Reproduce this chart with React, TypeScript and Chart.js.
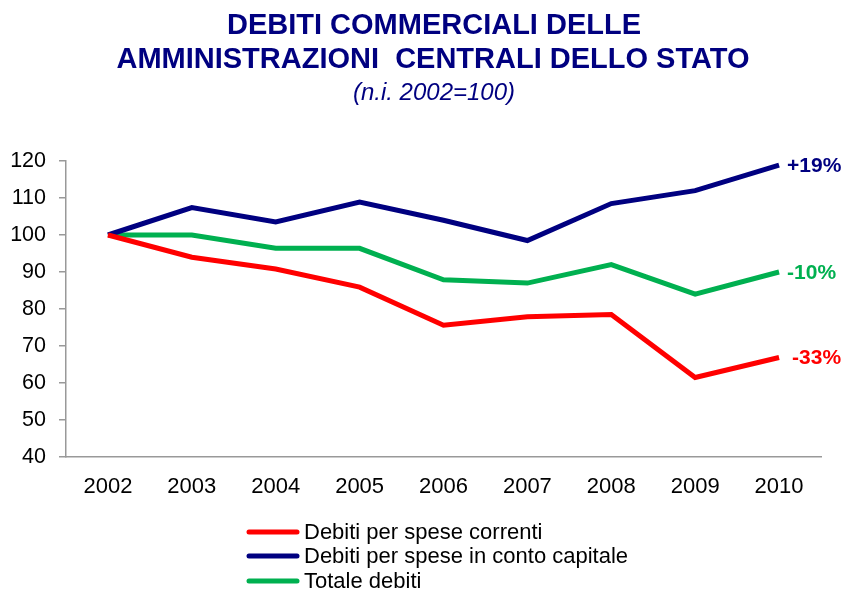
import React, { useEffect, useRef } from "react";
import { Chart, registerables } from "chart.js";

Chart.register(...registerables);

const years = ["2002", "2003", "2004", "2005", "2006", "2007", "2008", "2009", "2010"];
const correnti = [100, 94, 90.8, 85.9, 75.6, 77.9, 78.5, 61.5, 66.9];
const capitale = [100, 107.4, 103.5, 108.9, 104, 98.5, 108.5, 112, 118.9];
const totale = [100, 100, 96.4, 96.4, 87.9, 87, 92, 84, 90];
const seriesNames = ["Debiti per spese correnti", "Debiti per spese in conto capitale", "Totale debiti"];
const endLabels = ["-33%", "+19%", "-10%"];
const colors = ["#FF0000", "#000080", "#00B050"];
const titleLines = ["DEBITI COMMERCIALI DELLE", "AMMINISTRAZIONI  CENTRALI DELLO STATO"];
const subtitle = "(n.i. 2002=100)";

const FONT = "'Liberation Sans', Arial, sans-serif";

const customText = {
  id: "customText",
  afterDraw(chart: any) {
    const ctx = chart.ctx;
    const W = chart.width;
    ctx.save();
    // title
    ctx.fillStyle = "#000080";
    ctx.textAlign = "center";
    ctx.textBaseline = "middle";
    ctx.font = `bold 29px ${FONT}`;
    ctx.fillText(titleLines[0], 434, 26);
    ctx.fillText(titleLines[1], 433, 60);
    ctx.font = `italic 24px ${FONT}`;
    ctx.fillText(subtitle, 434, 93);

    // end labels
    ctx.textAlign = "left";
    ctx.font = `bold 21px ${FONT}`;
    chart.data.datasets.forEach((ds: any, i: number) => {
      const meta = chart.getDatasetMeta(i);
      const pt = meta.data[meta.data.length - 1];
      ctx.fillStyle = ds.borderColor;
      ctx.fillText(endLabels[i], pt.x + (i === 0 ? 13 : 8), pt.y + 1);
    });

    // legend
    const lx = 249;
    const rows = [532, 556, 581];
    ctx.font = `22px ${FONT}`;
    chart.data.datasets.forEach((ds: any, i: number) => {
      ctx.strokeStyle = ds.borderColor;
      ctx.lineWidth = 5;
      ctx.lineCap = "round";
      ctx.beginPath();
      ctx.moveTo(lx, rows[i]);
      ctx.lineTo(lx + 48, rows[i]);
      ctx.stroke();
      ctx.fillStyle = "#000";
      ctx.fillText(ds.label, lx + 55, rows[i] + 1);
    });
    ctx.restore();
  },
};

export default function App() {
  const ref = useRef<HTMLCanvasElement>(null);
  useEffect(() => {
    document.body.style.margin = "0";
    const mk = (i: number, data: number[]) => ({
      label: seriesNames[i],
      data,
      borderColor: colors[i],
      backgroundColor: colors[i],
      borderWidth: 5,
      pointRadius: 0,
      tension: 0,
      fill: false,
    });
    const chart = new Chart(ref.current!, {
      type: "line",
      data: {
        labels: years,
        datasets: [mk(0, correnti), mk(1, capitale), mk(2, totale)],
      },
      options: {
        animation: false,
        responsive: false,
        layout: { padding: { top: 161, left: 0, right: 24, bottom: 0 } },
        plugins: { legend: { display: false }, tooltip: { enabled: false } },
        scales: {
          x: {
            offset: true,
            grid: { display: false, drawTicks: false },
            border: { display: true, color: "#999", width: 1.5 },
            ticks: { color: "#000", font: { size: 22, family: FONT }, padding: 17 },
            afterFit: (s: any) => { s.height = 134; },
          },
          y: {
            min: 40,
            max: 120,
            grid: { drawOnChartArea: false, drawTicks: true, tickLength: 7, color: "#999", lineWidth: 1.5 },
            border: { display: true, color: "#999", width: 1.5 },
            ticks: { stepSize: 10, color: "#000", font: { size: 21.5, family: FONT }, padding: 13 },
            afterFit: (s: any) => { s.width = 66; },
          },
        },
      },
      plugins: [customText],
    });
    return () => chart.destroy();
  }, []);
  return (
    <div style={{ width: 845, height: 591 }}>
      <canvas ref={ref} width={845} height={591} style={{ width: 845, height: 591, display: "block" }} />
    </div>
  );
}
